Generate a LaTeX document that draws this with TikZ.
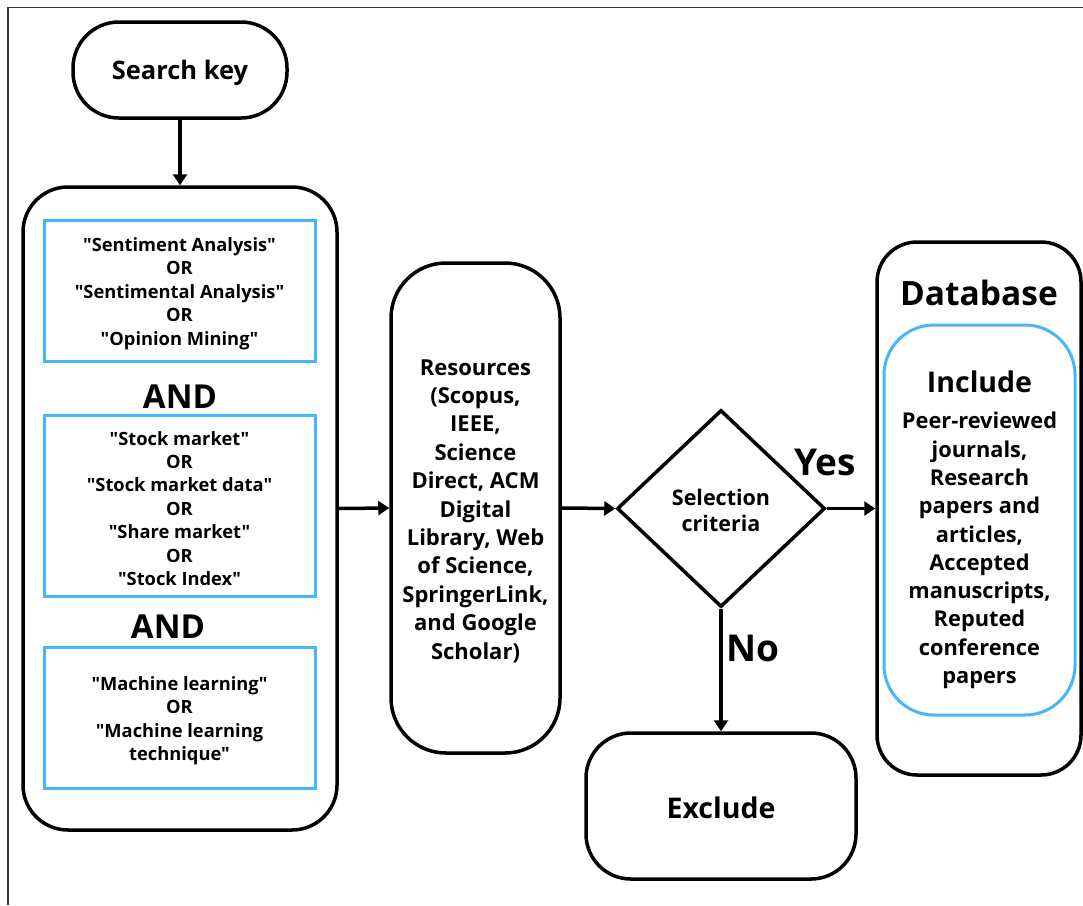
\documentclass[tikz,border=0pt]{standalone}
\usepackage{fontspec}
\setmainfont{Open Sans}[Ligatures=TeXOff]
\usetikzlibrary{shapes.geometric,arrows.meta}
\definecolor{skyblue}{RGB}{70,182,250}
\definecolor{framegray}{RGB}{55,55,55}
\newcommand{\fs}[2]{\fontsize{#1}{#2}\selectfont\bfseries}
\begin{document}
\begin{tikzpicture}[x=1pt,y=-1pt,
  blk/.style={draw=black,line width=3.5pt,align=center,inner sep=0pt},
  bluebox/.style={draw=skyblue,line width=3pt,align=center,inner sep=0pt},
  lbl/.style={align=center,inner sep=0pt},
  arr/.style={draw=black,line width=3.5pt,-{Triangle[length=11pt,width=14pt]}}
]
\useasboundingbox (0,0) rectangle (1083,905);
\draw[framegray,line width=1.5pt] (8,905) -- (8,7.5) -- (1083,7.5);

\node[blk,rounded corners=46pt,minimum width=214pt,minimum height=96pt] (key) at (180,70) {};
\node[lbl,font=\fs{25.5}{30}] (keyt) at (180,72.5) {Search key};

\node[blk,rounded corners=45pt,minimum width=314pt,minimum height=643pt] (big) at (180,508.5) {};
\node[bluebox,minimum width=271pt,minimum height=141pt] (b1) at (179.5,290.5) {};
\node[lbl,font=\fs{18.3}{23.5}] (b1t) at (179.5,293.5)
  {"Sentiment Analysis"\\OR\\"Sentimental Analysis"\\OR\\"Opinion Mining"};
\node[lbl,font=\fs{33}{36}] (and1) at (180,397) {AND};
\node[bluebox,minimum width=271pt,minimum height=181pt] (b2) at (179.5,505.5) {};
\node[lbl,font=\fs{18.3}{23.4}] (b2t) at (179.5,508.5)
  {"Stock market"\\OR\\"Stock market data"\\OR\\"Share market"\\OR\\"Stock Index"};
\node[lbl,font=\fs{33}{36}] (and2) at (168,627) {AND};
\node[bluebox,minimum width=271pt,minimum height=141pt] (b3) at (179.5,717.5) {};
\node[lbl,font=\fs{18.3}{23.5}] (b3t) at (179.5,720.5)
  {"Machine learning"\\OR\\"Machine learning\\technique"};

\node[blk,rounded corners=55pt,minimum width=169pt,minimum height=490pt] (res) at (475.5,508) {};
\node[lbl,font=\fs{22}{28.4}] (rest) at (475.5,511)
  {Resources\\(Scopus,\\IEEE,\\Science\\Direct, ACM\\Digital\\Library, Web\\of Science,\\SpringerLink,\\and Google\\Scholar)};

\node[blk,diamond,minimum width=208pt,minimum height=197pt] (dia) at (721,508.5) {};
\node[lbl,font=\fs{21.5}{26}] (diat) at (721,510) {Selection\\criteria};

\node[blk,rounded corners=45pt,minimum width=270pt,minimum height=146pt] (exc) at (721,806) {};
\node[lbl,font=\fs{28.5}{32}] (exct) at (721,808) {Exclude};

\node[blk,rounded corners=40pt,minimum width=204pt,minimum height=533pt] (db) at (979,508.5) {};
\node[lbl,font=\fs{33.5}{36}] (dbt) at (979,293) {Database};
\node[bluebox,rounded corners=50pt,minimum width=191pt,minimum height=390pt] (inc) at (979.5,520) {};
\node[lbl,font=\fs{28.5}{32}] (inct) at (979.5,382) {Include};
\node[lbl,font=\fs{21.8}{28.3}] (incl) at (979.5,550.5)
  {Peer-reviewed\\journals,\\Research\\papers and\\articles,\\Accepted\\manuscripts,\\Reputed\\conference\\papers};

\node[lbl,font=\fs{37}{40}] (yes) at (825,462) {Yes};
\node[lbl,font=\fs{37}{40}] (no) at (753,648) {No};

\draw[arr] (key.south) -- (big.north);
\draw[arr] (big.east) -- (res.west);
\draw[arr] (res.east) -- (dia.west);
\draw[arr] (dia.east) -- (db.west);
\draw[arr] (dia.south) -- (exc.north);
\end{tikzpicture}
\end{document}
